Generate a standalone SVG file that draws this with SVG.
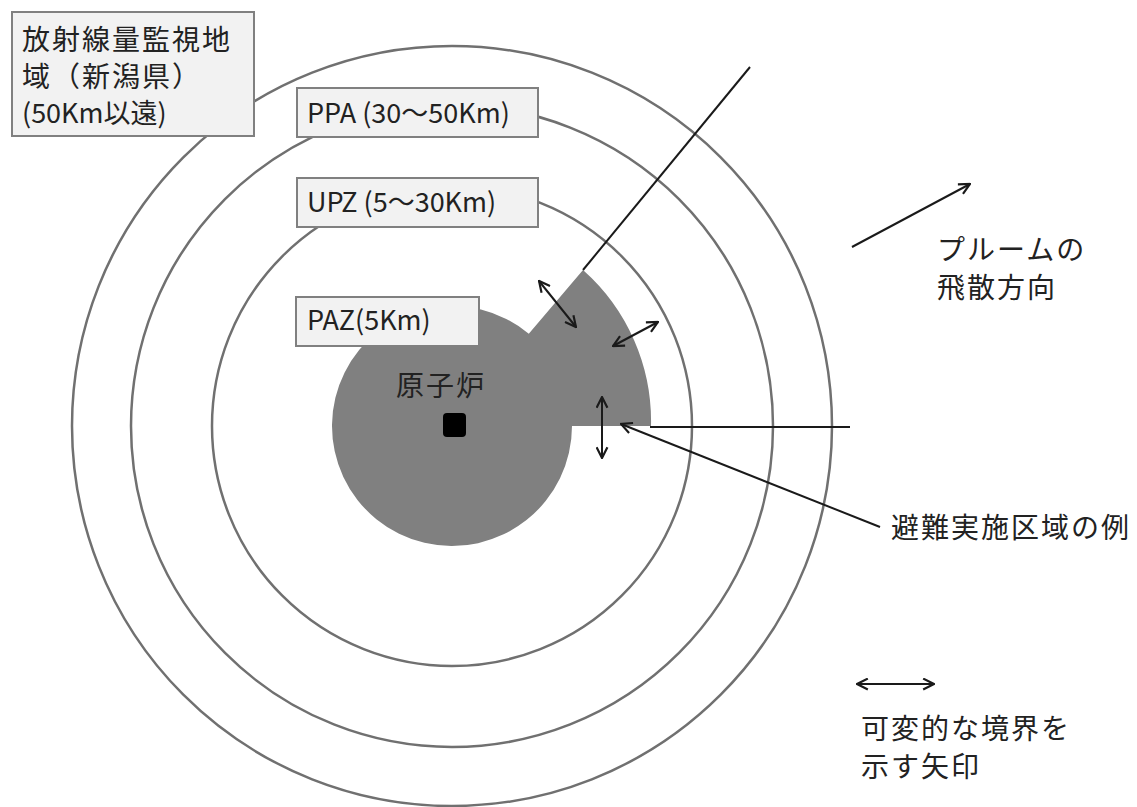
<svg xmlns="http://www.w3.org/2000/svg" width="1137" height="807" viewBox="0 0 1137 807">
<style>
.ring{fill:none;stroke:#707070;stroke-width:2.5}
.box{fill:#f2f2f2;stroke:#808080;stroke-width:2}
.t{font-family:"Noto Sans CJK JP","Noto Sans",sans-serif;font-size:28px;letter-spacing:2px;fill:#222}
.lt{font-family:"Noto Sans CJK JP","Noto Sans",sans-serif;font-size:27px;fill:#222}
.ln{stroke:#1a1a1a;stroke-width:2;fill:none}
</style>
<defs>
<marker id="ah" viewBox="0 0 12 12" refX="11" refY="6" markerWidth="13" markerHeight="13" markerUnits="userSpaceOnUse" orient="auto-start-reverse">
<path d="M1,1 L11,6 L1,11" fill="none" stroke="#1a1a1a" stroke-width="2"/>
</marker>
</defs>
<rect width="1137" height="807" fill="#ffffff"/>
<g id="zones">
<circle cx="452" cy="426" r="380" fill="#fafafa" class="ring"/>
<circle cx="452" cy="426" r="321" class="ring"/>
<circle cx="452" cy="426" r="240" class="ring"/>
<path id="evac-area" d="M572,426 A120,120 0 1 1 528.8,333.8 L583,270 A202,202 0 0 1 651,426 Z" fill="#808080"/>
</g>
<g id="connectors">
<line class="ln" x1="750" y1="67" x2="583" y2="270"/>
<line class="ln" x1="650" y1="427" x2="850" y2="427"/>
<line class="ln" x1="880" y1="527" x2="621" y2="424" marker-end="url(#ah)"/>
<line class="ln" x1="852" y1="247" x2="970" y2="184" marker-end="url(#ah)"/>
<line class="ln" x1="539" y1="281" x2="576" y2="327" marker-start="url(#ah)" marker-end="url(#ah)"/>
<line class="ln" x1="613" y1="346" x2="658" y2="322" marker-start="url(#ah)" marker-end="url(#ah)"/>
<line class="ln" x1="602" y1="397" x2="602" y2="458" marker-start="url(#ah)" marker-end="url(#ah)"/>
<line class="ln" x1="857" y1="684" x2="934" y2="684" marker-start="url(#ah)" marker-end="url(#ah)"/>
</g>
<g id="monitor">
<rect class="box" x="12" y="12" width="242" height="124"/>
<text class="t" x="22" y="50">放射線量監視地</text>
<text class="t" x="22" y="87">域（新潟県）</text>
<text class="lt" x="22" y="123">(50Km以遠)</text>
</g>
<g id="ppa">
<rect class="box" x="297" y="88" width="241" height="49"/>
<text class="lt" x="307" y="123">PPA (30～50Km)</text>
</g>
<g id="upz">
<rect class="box" x="297" y="178" width="241" height="49"/>
<text class="lt" x="307" y="212">UPZ (5～30Km)</text>
</g>
<g id="paz">
<rect class="box" x="296" y="297" width="183" height="49"/>
<text class="lt" x="307" y="330">PAZ(5Km)</text>
</g>
<g id="reactor">
<text class="t" x="396" y="396">原子炉</text>
<rect x="443" y="413" width="23" height="24" rx="4" fill="#000"/>
</g>
<g id="plume">
<text class="t" x="937" y="260">プルームの</text>
<text class="t" x="937" y="298">飛散方向</text>
</g>
<g id="evac-label">
<text class="t" x="891" y="538">避難実施区域の例</text>
</g>
<g id="legend">
<text class="t" x="861" y="739">可変的な境界を</text>
<text class="t" x="861" y="777">示す矢印</text>
</g>
</svg>
